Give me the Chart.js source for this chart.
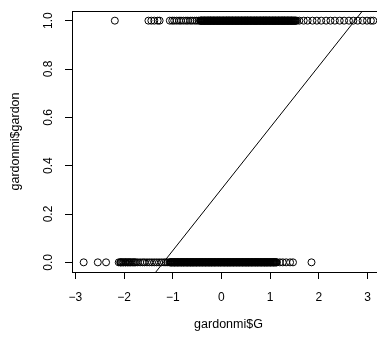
<!DOCTYPE html>
<html>
<head>
<meta charset="utf-8">
<script src="https://cdn.jsdelivr.net/npm/chart.js@4"></script>
<style>
  html, body { margin: 0; padding: 0; background: #fff; overflow: hidden; }
  #wrap { width: 392px; height: 338px; }
</style>
</head>
<body>
<div id="wrap"><canvas id="gardon-plot" width="392" height="338"></canvas></div>
<script>
/*data*/
// G values of fish with gardon = 0
let gardonZero = [
    -2.83, -2.54, -2.37,
    -2.11, -2.08, -2.07, -2.06, -2.04, -2.02, -2.01, -1.98, -1.97, -1.96, -1.93, -1.92,
    -1.9, -1.88, -1.87, -1.84, -1.82, -1.8, -1.78, -1.76, -1.72, -1.67, -1.62, -1.58,
    -1.53, -1.48, -1.43, -1.38, -1.33, -1.28, -1.23, -1.18, -1.14, -1.1,
    -1.06, -1.04, -1.03, -1.01, -0.99, -0.97, -0.96, -0.94, -0.92, -0.9, -0.89, -0.87,
    -0.85, -0.83, -0.82, -0.8, -0.78, -0.77, -0.75, -0.73, -0.71, -0.7, -0.68, -0.66,
    -0.64, -0.63, -0.61, -0.59, -0.58, -0.56, -0.54, -0.52, -0.51, -0.49, -0.47, -0.45,
    -0.44, -0.42, -0.4, -0.39, -0.37, -0.35, -0.33, -0.32, -0.3, -0.28, -0.26, -0.25,
    -0.23, -0.21, -0.2, -0.18, -0.16, -0.14, -0.13, -0.11, -0.09, -0.07, -0.06, -0.04,
    -0.02, -0.01, 0.01, 0.03, 0.05, 0.06, 0.08, 0.1, 0.12, 0.13, 0.15, 0.17, 0.18, 0.2,
    0.22, 0.24, 0.25, 0.27, 0.29, 0.31, 0.32, 0.34, 0.36, 0.37, 0.39, 0.41, 0.43, 0.44,
    0.46, 0.48, 0.5, 0.51, 0.53, 0.55, 0.56, 0.58, 0.6, 0.62, 0.63, 0.65, 0.67, 0.69,
    0.7, 0.72, 0.74, 0.75, 0.77, 0.79, 0.81, 0.82, 0.84, 0.86, 0.88, 0.89, 0.91, 0.93,
    0.94, 0.96, 0.98, 1.0, 1.01, 1.03, 1.05, 1.07, 1.08, 1.1, 1.12, 1.14,
    -1.055, -1.035, -1.02, -1.0, -0.98, -0.965, -0.95, -0.93, -0.91, -0.895, -0.88,
    -0.86, -0.84, -0.825, -0.81, -0.79, -0.775, -0.76, -0.74, -0.72, -0.705, -0.69,
    -0.67, -0.65, -0.635, -0.62, -0.6, -0.585, -0.57, -0.55, -0.53, -0.515, -0.5,
    -0.48, -0.46, -0.445, -0.43, -0.41, -0.395, -0.38, -0.36, -0.34, -0.325, -0.31,
    -0.29, -0.27, -0.255, -0.24, -0.22, -0.205, -0.19, -0.17, -0.15, -0.135, -0.12,
    -0.1, -0.08, -0.065, -0.05, -0.03, -0.015, 0.0, 0.02, 0.04, 0.055, 0.07, 0.09,
    0.11, 0.125, 0.14, 0.16, 0.175, 0.19, 0.21, 0.23, 0.245, 0.26, 0.28, 0.3, 0.315,
    0.33, 0.35, 0.365, 0.38, 0.4, 0.42, 0.435, 0.45, 0.47, 0.49, 0.505, 0.52, 0.54,
    0.555, 0.57, 0.59, 0.61, 0.625, 0.64, 0.66, 0.68, 0.695, 0.71, 0.73, 0.745, 0.76,
    0.78, 0.8, 0.815, 0.83, 0.85, 0.87, 0.885, 0.9, 0.92, 0.935, 0.95, 0.97, 0.99,
    1.005, 1.02, 1.04, 1.06, 1.075, 1.09, 1.11, 1.13,
    1.2, 1.26, 1.33, 1.41, 1.47, 1.85
];
// G values of fish with gardon = 1
let gardonOne = [
    -2.19, -1.5, -1.44, -1.38, -1.31, -1.27,
    -1.06, -1.01, -0.97, -0.92, -0.87, -0.83, -0.78, -0.73, -0.69, -0.64, -0.6, -0.55,
    -0.51, -0.47,
    -0.44, -0.42, -0.41, -0.39, -0.37, -0.35, -0.34, -0.32, -0.3, -0.28, -0.27, -0.25,
    -0.23, -0.22, -0.2, -0.18, -0.16, -0.15, -0.13, -0.11, -0.09, -0.08, -0.06, -0.04,
    -0.03, -0.01, 0.01, 0.03, 0.04, 0.06, 0.08, 0.1, 0.11, 0.13, 0.15, 0.16, 0.18, 0.2,
    0.22, 0.23, 0.25, 0.27, 0.29, 0.3, 0.32, 0.34, 0.35, 0.37, 0.39, 0.41, 0.42, 0.44,
    0.46, 0.48, 0.49, 0.51, 0.53, 0.54, 0.56, 0.58, 0.6, 0.61, 0.63, 0.65, 0.67, 0.68,
    0.7, 0.72, 0.73, 0.75, 0.77, 0.79, 0.8, 0.82, 0.84, 0.86, 0.87, 0.89, 0.91, 0.92,
    0.94, 0.96, 0.98, 0.99, 1.01, 1.03, 1.05, 1.06, 1.08, 1.1, 1.11, 1.13, 1.15, 1.17,
    1.18, 1.2, 1.22, 1.24, 1.25, 1.27, 1.29, 1.3, 1.32, 1.34, 1.36, 1.37, 1.39, 1.41,
    1.43, 1.44, 1.46, 1.48, 1.5, 1.52, 1.55,
    -0.435, -0.415, -0.4, -0.38, -0.365, -0.345, -0.33, -0.31, -0.29, -0.275, -0.26,
    -0.24, -0.225, -0.21, -0.19, -0.17, -0.155, -0.14, -0.12, -0.1, -0.085, -0.07,
    -0.05, -0.035, -0.02, 0.0, 0.02, 0.035, 0.05, 0.07, 0.09, 0.105, 0.12, 0.14, 0.155,
    0.17, 0.19, 0.21, 0.225, 0.24, 0.26, 0.28, 0.295, 0.31, 0.33, 0.345, 0.36, 0.38,
    0.4, 0.415, 0.43, 0.45, 0.47, 0.485, 0.5, 0.52, 0.535, 0.55, 0.57, 0.59, 0.605,
    0.62, 0.64, 0.66, 0.675, 0.69, 0.71, 0.725, 0.74, 0.76, 0.78, 0.795, 0.81, 0.83,
    0.85, 0.865, 0.88, 0.9, 0.915, 0.93, 0.95, 0.97, 0.985, 1.0, 1.02, 1.04, 1.055,
    1.07, 1.09, 1.105, 1.12, 1.14, 1.16, 1.175, 1.19, 1.21, 1.23, 1.245, 1.26, 1.28,
    1.295, 1.31, 1.33, 1.35, 1.365, 1.38, 1.4, 1.42, 1.435, 1.45, 1.47, 1.49, 1.51, 1.53,
    1.6, 1.69, 1.77, 1.87, 1.96, 2.05, 2.15, 2.24, 2.33, 2.43, 2.52, 2.62, 2.71, 2.8,
    2.9, 2.99, 3.07, 3.12
];
// abline(lm(gardon ~ G))
let lineIntercept = 0.303;
let lineSlope = 0.2545;

let xTicks = [-3, -2, -1, 0, 1, 2, 3];
let yTicks = [0, 0.2, 0.4, 0.6, 0.8, 1];
let yTickLabels = ['0.0', '0.2', '0.4', '0.6', '0.8', '1.0'];
/**/

let xMin = -3.07;
let xMax = 3.36;
let fontFamily = '"Liberation Sans", Arial, Helvetica, sans-serif';

function toPoints(values, y) {
    return values.map(v => ({x: v, y: y}));
}

let boxPlugin = {
    id: 'rbox',
    afterDraw(chart) {
        let ctx = chart.ctx;
        let area = chart.chartArea;
        ctx.save();
        ctx.strokeStyle = '#000';
        ctx.lineWidth = 1;
        ctx.strokeRect(Math.round(area.left) + 0.5, Math.round(area.top) + 0.5,
            Math.round(area.right - area.left), Math.round(area.bottom - area.top));

        // y tick labels, parallel to the axis like R does
        let yScale = chart.scales.y;
        ctx.fillStyle = '#000';
        ctx.font = '12px ' + fontFamily;
        ctx.textAlign = 'center';
        ctx.textBaseline = 'alphabetic';
        yTicks.forEach((v, i) => {
            ctx.save();
            ctx.translate(52, yScale.getPixelForValue(v));
            ctx.rotate(-Math.PI / 2);
            ctx.fillText(yTickLabels[i], 0, 0);
            ctx.restore();
        });
        ctx.restore();
    }
};

let gardonChart = {
    type: 'scatter',
    data: {
        datasets: [{
            data: [
                {x: xMin, y: lineIntercept + lineSlope * xMin},
                {x: xMax, y: lineIntercept + lineSlope * xMax}
            ],
            showLine: true,
            borderColor: '#000',
            borderWidth: 1,
            pointRadius: 0
        }, {
            data: toPoints(gardonOne, 1),
            pointStyle: 'circle',
            pointRadius: 3.5,
            borderColor: '#000',
            backgroundColor: 'rgba(0,0,0,0)',
            borderWidth: 1
        }, {
            data: toPoints(gardonZero, 0),
            pointStyle: 'circle',
            pointRadius: 3.5,
            borderColor: '#000',
            backgroundColor: 'rgba(0,0,0,0)',
            borderWidth: 1
        }]
    },
    options: {
        responsive: false,
        animation: false,
        devicePixelRatio: 1,
        events: [],
        layout: {
            padding: {top: 11, right: 7, left: 0, bottom: 0}
        },
        plugins: {
            legend: {display: false},
            tooltip: {enabled: false}
        },
        scales: {
            x: {
                type: 'linear',
                min: xMin,
                max: xMax,
                afterBuildTicks: scale => { scale.ticks = xTicks.map(v => ({value: v})); },
                afterFit: scale => { scale.height = 66; },
                border: {display: false},
                grid: {
                    drawOnChartArea: false,
                    drawTicks: true,
                    tickLength: 7,
                    tickColor: '#000'
                },
                ticks: {
                    color: '#000',
                    padding: 11,
                    maxRotation: 0,
                    font: {family: fontFamily, size: 12},
                    callback: v => (v < 0 ? '\u2212' : '') + Math.abs(v)
                },
                title: {
                    display: true,
                    text: 'gardonmi$G',
                    color: '#000',
                    font: {family: fontFamily, size: 12.5},
                    padding: {top: 0, bottom: 6}
                }
            },
            y: {
                type: 'linear',
                min: -0.04,
                max: 1.04,
                afterBuildTicks: scale => { scale.ticks = yTicks.map(v => ({value: v})); },
                afterFit: scale => { scale.width = 72; },
                border: {display: false},
                grid: {
                    drawOnChartArea: false,
                    drawTicks: true,
                    tickLength: 7,
                    tickColor: '#000'
                },
                ticks: {display: false},
                title: {
                    display: true,
                    text: 'gardonmi$gardon',
                    color: '#000',
                    font: {family: fontFamily, size: 12.5},
                    padding: {top: 8, bottom: 0}
                }
            }
        }
    },
    plugins: [boxPlugin]
};

window.onload = function() {
    new Chart(document.getElementById('gardon-plot'), gardonChart);
};
</script>
</body>
</html>
